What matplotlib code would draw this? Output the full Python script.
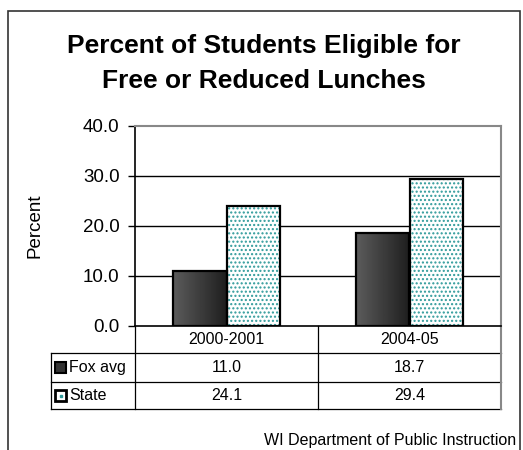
import numpy as np
import matplotlib
matplotlib.use("Agg")
import matplotlib.pyplot as plt
from matplotlib.patches import Rectangle
from matplotlib.transforms import blended_transform_factory

plt.rcParams['font.family'] = ['Liberation Sans', 'DejaVu Sans']

# data
years = ['2000-2001', '2004-05']
series_names = ['Fox avg', 'State']
fox_avg = [11.0, 18.7]
state = [24.1, 29.4]
y_ticks = [0, 10, 20, 30, 40]

W, H = 523, 450
fig = plt.figure(figsize=(W / 100, H / 100), dpi=100)

# outer frame (open at the bottom edge)
fig.add_artist(Rectangle((8 / W, -0.05), 512 / W, 1.05 - 11 / H,
                         transform=fig.transFigure, fill=False,
                         edgecolor='#333333', linewidth=1.2))

fig.text(0.505, 1 - 53 / H, 'Percent of Students Eligible for',
         ha='center', va='baseline', fontsize=19, fontweight='bold')
fig.text(0.505, 1 - 88 / H, 'Free or Reduced Lunches',
         ha='center', va='baseline', fontsize=19, fontweight='bold')

ax = fig.add_axes([135 / W, 1 - 326 / H, 366 / W, 200 / H])
ax.set_xlim(-0.5, 1.5)
ax.set_ylim(0, 40)

bw = 0.29
x = np.arange(len(years))

# dark bars with a left-to-right shading
grad = np.linspace(0.36, 0.12, 64).reshape(1, -1)
for xi, v in zip(x, fox_avg):
    bar = Rectangle((xi - bw, 0), bw, v, facecolor='none',
                    edgecolor='black', linewidth=1.6, zorder=4)
    ax.add_patch(bar)
    im = ax.imshow(grad, cmap='gray', vmin=0, vmax=1, aspect='auto',
                   extent=(xi - bw, xi, 0, v), zorder=3)
    im.set_clip_path(bar)

# dotted state bars
ax.bar(x + bw / 2, state, bw, color='white', edgecolor='#2f9a9a',
       hatch='....', linewidth=0, zorder=3)
ax.bar(x + bw / 2, state, bw, color='none', edgecolor='black',
       linewidth=1.6, zorder=4)

ax.set_yticks(y_ticks)
ax.set_yticklabels([f'{t:.1f}' for t in y_ticks], fontsize=13.5)
ax.set_xticks([])
ax.tick_params(axis='y', length=5, width=1, pad=6)
for t in y_ticks[1:-1]:
    ax.axhline(t, color='black', linewidth=1, zorder=1)
ax.spines['top'].set_color('#888888')
ax.spines['right'].set_color('#888888')
ax.spines['top'].set_linewidth(1.5)
ax.spines['right'].set_linewidth(1.5)
ax.spines['left'].set_linewidth(1.2)
ax.spines['bottom'].set_linewidth(1.2)
ax.set_ylabel('Percent', fontsize=13.5)
ax.yaxis.set_label_coords(-0.25, 0.5)

# data table under the plot
tr = blended_transform_factory(ax.transData, ax.transAxes)
px = 1 / 200  # one pixel in axes-height units
row_edges = [0, -27 * px, -56 * px, -83 * px]
left_edge = -0.5 - (135 - 51) / 183
lw = 0.9
kw = dict(transform=tr, clip_on=False, color='black', linewidth=lw)

ax.plot([left_edge, 1.5], [row_edges[1]] * 2, **kw)
ax.plot([left_edge, 1.5], [row_edges[2]] * 2, **kw)
ax.plot([left_edge, 1.5], [row_edges[3]] * 2, **kw)
ax.plot([left_edge, left_edge], [row_edges[1], row_edges[3]], **kw)
for xv in [-0.5, 0.5]:
    ax.plot([xv, xv], [row_edges[0], row_edges[3]], **kw)
ax.plot([1.5, 1.5], [row_edges[0], row_edges[3]], transform=tr,
        clip_on=False, color='#888888', linewidth=1.5)

def mid(i):
    return (row_edges[i] + row_edges[i + 1]) / 2

for xi, yr in zip(x, years):
    ax.text(xi, mid(0), yr, transform=tr, ha='center', va='center',
            fontsize=11.5)
for row, vals in enumerate([fox_avg, state], start=1):
    for xi, v in zip(x, vals):
        ax.text(xi, mid(row), f'{v:.1f}', transform=tr, ha='center',
                va='center', fontsize=11.5)

key_w = 11 / 183
key_h = 11 * px
kx = left_edge + 4 / 183
for row, name in enumerate(series_names, start=1):
    ky = mid(row) - key_h / 2
    if row == 1:
        key = Rectangle((kx, ky), key_w, key_h, transform=tr,
                        facecolor='#333333', edgecolor='black',
                        linewidth=1.5, clip_on=False)
    else:
        key = Rectangle((kx, ky), key_w, key_h, transform=tr,
                        facecolor='white', edgecolor='black',
                        linewidth=2, clip_on=False)
        ax.plot(kx + key_w / 2, mid(row), 's', markersize=1.5,
                color='#2f9a9a', transform=tr, clip_on=False)
    ax.add_patch(key)
    ax.text(kx + key_w + 3 / 183, mid(row), name, transform=tr,
            ha='left', va='center', fontsize=11.5)

fig.text(516 / W, 1 - 440 / H, 'WI Department of Public Instruction',
         ha='right', va='center', fontsize=11.5)

fig.savefig('out.png', dpi=100, facecolor='white')
